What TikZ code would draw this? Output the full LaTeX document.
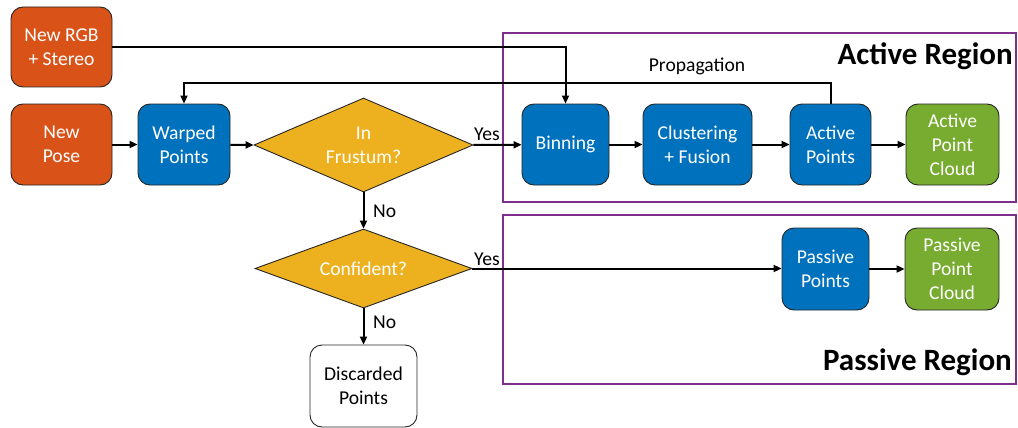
\documentclass[tikz,border=0pt]{standalone}
\usepackage{fontspec}
\setmainfont{Carlito}
\usetikzlibrary{arrows.meta,shapes.geometric}
\definecolor{morange}{HTML}{D95319}
\definecolor{mblue}{HTML}{0072BD}
\definecolor{myellow}{HTML}{EDB120}
\definecolor{mgreen}{HTML}{77AC30}
\definecolor{mpurple}{HTML}{7E2F8E}
\begin{document}
\begin{tikzpicture}[x=1pt,y=-1pt,
  every node/.style={font=\fontsize{19.6}{24}\selectfont},
  box/.style={draw=black!85,line width=0.9pt,rounded corners=12pt,align=center,text=white,inner sep=0pt},
  inbox/.style={box,fill=morange},
  procbox/.style={box,fill=mblue},
  outbox/.style={box,fill=mgreen},
  dec/.style={diamond,draw=black!85,line width=0.9pt,fill=myellow,text=white,inner sep=0pt,align=center},
  region/.style={draw=mpurple,line width=1.6pt},
  conn/.style={line width=2pt,-{Triangle[length=8pt,width=7pt]}},
  lbl/.style={text=black,inner sep=0pt},
  title/.style={font=\fontsize{31}{34}\selectfont\bfseries,inner sep=0pt}
]
\useasboundingbox (0,0) rectangle (1018,428);
\fill[white] (0,0) rectangle (1018,428);

% regions
\draw[region] (503,33) rectangle (1016,202);
\draw[region] (503,215) rectangle (1016,384);
\node[title,anchor=base east] (actT) at (1013,65) {Active Region};
\node[title,anchor=base east] (pasT) at (1012,370) {Passive Region};

% nodes
\node[inbox,minimum width=101pt,minimum height=80pt] (rgb) at (61.5,47) {New RGB\\+ Stereo};
\node[inbox,minimum width=101pt,minimum height=81pt] (pose) at (61.5,144.5) {New\\Pose};
\node[procbox,minimum width=92pt,minimum height=81pt] (warp) at (184,144.5) {Warped\\Points};
\node[dec,aspect=2.33,minimum width=219pt,minimum height=94pt] (fr) at (363.5,145) {In\\Frustum?};
\node[procbox,minimum width=87pt,minimum height=81pt] (bin) at (565.5,144.5) {Binning};
\node[procbox,minimum width=109pt,minimum height=81pt] (clu) at (697.5,144.5) {Clustering\\+ Fusion};
\node[procbox,minimum width=81pt,minimum height=81pt] (ap) at (830.5,144.5) {Active\\Points};
\node[outbox,minimum width=93pt,minimum height=81pt] (apc) at (952.5,144.5) {Active\\Point\\Cloud};
\node[dec,aspect=2.75,minimum width=217pt,minimum height=79pt] (conf) at (363.5,268.5) {Confident?};
\node[box,fill=white,text=black,minimum width=107pt,minimum height=82pt] (disc) at (363.5,386) {Discarded\\Points};
\node[procbox,minimum width=87pt,minimum height=82pt] (pp) at (825.5,269) {Passive\\Points};
\node[outbox,minimum width=94pt,minimum height=82pt] (ppc) at (952,269) {Passive\\Point\\Cloud};

% connectors
\draw[conn] (rgb.east) -| (bin.north);
\coordinate (propR) at (830.5,83);
\draw[conn] (ap.north) -- (propR) -| (warp.north);
\node[lbl,anchor=base] (propL) at (697,72) {Propagation};
\draw[conn] (pose) -- (warp);
\draw[conn] (warp) -- (fr.west);
\draw[conn] (fr.east) -- (bin);
\node[lbl,anchor=base west] (y1) at (474,140) {Yes};
\draw[conn] (bin) -- (clu);
\draw[conn] (clu) -- (ap);
\draw[conn] (ap) -- (apc);
\draw[conn] (fr.south) -- (conf.north);
\node[lbl,anchor=base west] (n1) at (373,217) {No};
\draw[conn] (conf.east) -- (conf.east -| pp.west);
\node[lbl,anchor=base west] (y2) at (474,265) {Yes};
\draw[conn] (conf.south) -- (disc.north);
\node[lbl,anchor=base west] (n2) at (373,328) {No};
\draw[conn] (pp) -- (ppc);
\end{tikzpicture}
\end{document}
